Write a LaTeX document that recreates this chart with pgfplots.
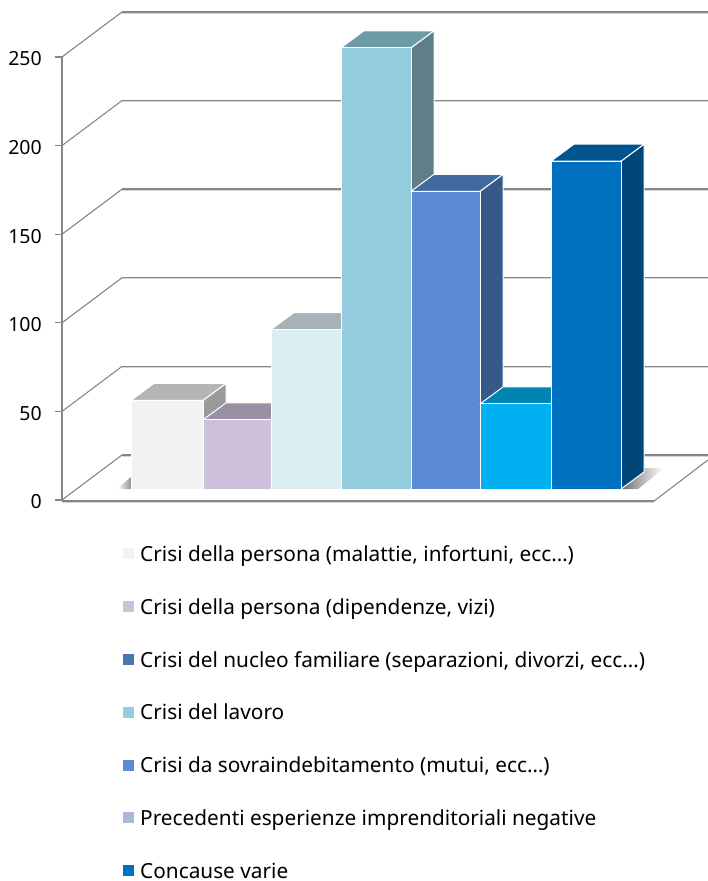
\documentclass[border=0pt]{standalone}
\usepackage{fontspec}
\setmainfont{Noto Sans}
\usepackage{pgfplots}
\pgfplotsset{compat=1.18}
% Face colours of the seven columns: front, top, side
\definecolor{aF}{HTML}{F2F2F2}\definecolor{aT}{HTML}{B5B5B5}\definecolor{aS}{HTML}{9A9A9A}
\definecolor{bF}{HTML}{CDC0DA}\definecolor{bT}{HTML}{9B8FA3}\definecolor{bS}{HTML}{8A7F92}
\definecolor{cF}{HTML}{DBEEF4}\definecolor{cT}{HTML}{A6B2B6}\definecolor{cS}{HTML}{95A2A6}
\definecolor{dF}{HTML}{93CDDD}\definecolor{dT}{HTML}{6E9AA6}\definecolor{dS}{HTML}{5E7F88}
\definecolor{eF}{HTML}{5A8BD4}\definecolor{eT}{HTML}{406AA0}\definecolor{eS}{HTML}{355A87}
\definecolor{fF}{HTML}{00B0F0}\definecolor{fT}{HTML}{0084B4}\definecolor{fS}{HTML}{006F98}
\definecolor{gF}{HTML}{0070C0}\definecolor{gT}{HTML}{005490}\definecolor{gS}{HTML}{004679}
\definecolor{legC}{HTML}{4A76AE}\definecolor{legF}{HTML}{AAB9D8}
\definecolor{wallgray}{HTML}{868686}
\pgfplotsset{
  grid line/.style={wallgray,line width=1.5pt,forget plot,
    postaction={draw=wallgray!35,line width=1pt,transform canvas={yshift=-1.2pt}}},
  grid slope/.style={wallgray,line width=1.1pt,forget plot},
  face/.style={fill=#1,draw=white,line width=1pt,line join=round,forget plot},
}
\begin{document}
\begin{tikzpicture}[x=1pt,y=1pt]
\path[use as bounding box] (0,0) rectangle (708,881);
% Frame: walls and floor, heights on the front plane of the chart
\begin{axis}[
  at={(62pt,381pt)},anchor=south west,scale only axis,
  width=646pt,height=443pt,
  xmin=62,xmax=708,ymin=0,ymax=250,clip=false,
  axis x line=none,axis y line=left,
  axis line style={-,wallgray,line width=1.6pt},
  xtick=\empty,ytick={0,50,100,150,200,250},
  tick style={wallgray,line width=1.2pt},major tick length=7pt,
  tick align=outside,
  /pgf/number format/assume math mode=true,
  yticklabel style={font=\fontsize{19.5}{22}\selectfont,inner sep=0pt,xshift=-13pt,yshift=-2pt,text=black},
]
\addplot[grid slope] coordinates {(62,0)(122,25.4)};
\addplot[grid slope] coordinates {(62,50)(122,75.4)};
\addplot[grid slope] coordinates {(62,100)(122,125.4)};
\addplot[grid slope] coordinates {(62,150)(122,175.4)};
\addplot[grid slope] coordinates {(62,200)(122,225.4)};
\addplot[grid slope] coordinates {(62,250)(122,275.4)};
\addplot[grid line] coordinates {(122,25.4)(708,25.4)};
\addplot[grid line] coordinates {(122,75.4)(708,75.4)};
\addplot[grid line] coordinates {(122,125.4)(708,125.4)};
\addplot[grid line] coordinates {(122,175.4)(708,175.4)};
\addplot[grid line] coordinates {(122,225.4)(708,225.4)};
\addplot[grid line] coordinates {(122,275.4)(708,275.4)};
% floor edges
\addplot[grid line,line width=2pt] coordinates {(62,-0.6)(654,-0.6)};
\addplot[grid slope] coordinates {(654,-0.6)(708,22.6)};
% a white floor under the columns, with soft shadows at both ends
\addplot[fill=white,draw=none,forget plot] coordinates {(122,24)(700,24)(654,0.5)(68,0.5)} -- cycle;
\addplot[left color=white,right color=gray!85,draw=none,forget plot] coordinates {(117,6.2)(131,6.2)(131,13)} -- cycle;
\addplot[left color=gray!90!black,middle color=gray!85,right color=white,draw=none,forget plot] coordinates {(622,6.2)(638,6.2)(664,18)(644,18)} -- cycle;
\end{axis}
% Columns, standing on the inner edge of the floor
\begin{axis}[
  at={(62pt,392pt)},anchor=south west,scale only axis,
  width=646pt,height=443pt,
  xmin=62,xmax=708,ymin=0,ymax=250,clip=false,hide axis,
  legend style={at={(0.0944,-0.1274)},anchor=north west,draw=none,fill=none,
    inner sep=0pt,outer sep=0pt,row sep=34.8pt,
    font=\fontsize{20.8}{24}\selectfont,
    nodes={text height=16pt,text depth=2pt,inner sep=0pt,anchor=base west}},
  legend cell align=left,
  legend image code/.code={\fill[#1,draw=none] (0pt,2pt) rectangle (11pt,13pt);\path (17pt,0pt);},
]
\addplot[wallgray!60,line width=1.2pt,forget plot] coordinates {(131,0)(622,0)};

\addplot[face=aS] coordinates {(203,0)(226,9.6)(226,59.6)(203,50)} -- cycle;
\addplot[face=aT] coordinates {(131,50)(203,50)(226,59.6)(154,59.6)} -- cycle;
\addplot[face=aF] coordinates {(131,0)(203,0)(203,50)(131,50)} -- cycle;

\addplot[face=bS] coordinates {(271,0)(294,9.6)(294,48.6)(271,39)} -- cycle;
\addplot[face=bT] coordinates {(203,39)(271,39)(294,48.6)(226,48.6)} -- cycle;
\addplot[face=bF] coordinates {(203,0)(271,0)(271,39)(203,39)} -- cycle;

\addplot[face=cS] coordinates {(341,0)(364,9.6)(364,99.6)(341,90)} -- cycle;
\addplot[face=cT] coordinates {(271,90)(341,90)(364,99.6)(294,99.6)} -- cycle;
\addplot[face=cF] coordinates {(271,0)(341,0)(341,90)(271,90)} -- cycle;

\addplot[face=dS] coordinates {(411,0)(434,9.6)(434,258.6)(411,249)} -- cycle;
\addplot[face=dT] coordinates {(341,249)(411,249)(434,258.6)(364,258.6)} -- cycle;
\addplot[face=dF] coordinates {(341,0)(411,0)(411,249)(341,249)} -- cycle;

\addplot[face=eS] coordinates {(480,0)(503,9.6)(503,177.6)(480,168)} -- cycle;
\addplot[face=eT] coordinates {(411,168)(480,168)(503,177.6)(434,177.6)} -- cycle;
\addplot[face=eF] coordinates {(411,0)(480,0)(480,168)(411,168)} -- cycle;

\addplot[face=fS] coordinates {(551,0)(574,9.6)(574,57.6)(551,48)} -- cycle;
\addplot[face=fT] coordinates {(480,48)(551,48)(574,57.6)(503,57.6)} -- cycle;
\addplot[face=fF] coordinates {(480,0)(551,0)(551,48)(480,48)} -- cycle;

\addplot[face=gS] coordinates {(621,0)(644,9.6)(644,194.6)(621,185)} -- cycle;
\addplot[face=gT] coordinates {(551,185)(621,185)(644,194.6)(574,194.6)} -- cycle;
\addplot[face=gF] coordinates {(551,0)(621,0)(621,185)(551,185)} -- cycle;

\addlegendimage{fill=aF}
\addlegendentry{Crisi della persona (malattie, infortuni, ecc…)}
\addlegendimage{fill=bF}
\addlegendentry{Crisi della persona (dipendenze, vizi)}
\addlegendimage{fill=legC}
\addlegendentry{Crisi del nucleo familiare (separazioni, divorzi, ecc…)}
\addlegendimage{fill=dF}
\addlegendentry{Crisi del lavoro}
\addlegendimage{fill=eF}
\addlegendentry{Crisi da sovraindebitamento (mutui, ecc…)}
\addlegendimage{fill=legF}
\addlegendentry{Precedenti esperienze imprenditoriali negative}
\addlegendimage{fill=gF}
\addlegendentry{Concause varie}
\end{axis}
\end{tikzpicture}
\end{document}
